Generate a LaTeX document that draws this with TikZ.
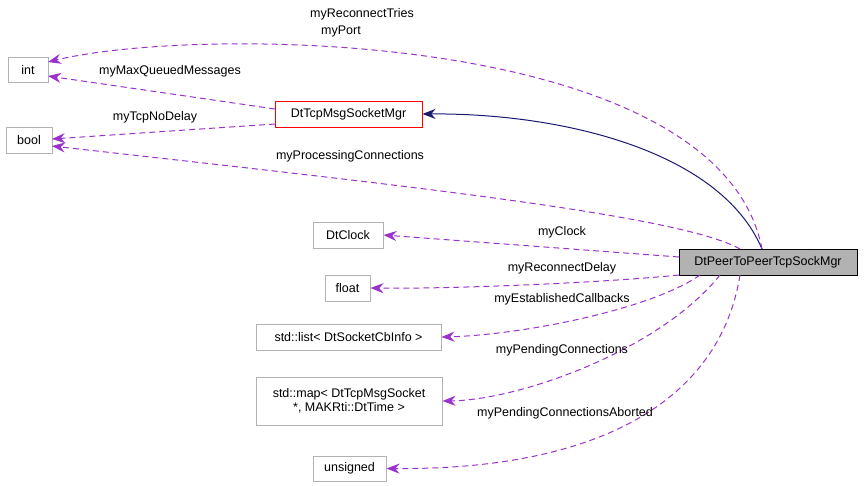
\documentclass[tikz,border=0pt]{standalone}
\usepackage{fontspec}
\setmainfont{Liberation Sans}
\usetikzlibrary{arrows.meta}
\definecolor{purp}{HTML}{9A32CD}
\definecolor{navy}{HTML}{191970}
\begin{document}
\begin{tikzpicture}[x=1pt,y=-1pt,font=\fontsize{12.5}{14.5}\selectfont,line width=1pt,
 box/.style={draw=black!30,fill=white,inner sep=0pt,align=center},
 rel/.style={purp,dash pattern=on 6pt off 4pt,-{Stealth[length=13pt,width=10pt]}},
 lab/.style={inner sep=1pt}]
\useasboundingbox (0,0) rectangle (864,485);
\node[box,minimum width=40pt,minimum height=25pt] (int) at (28,70) {int};
\node[box,minimum width=46pt,minimum height=26pt] (bool) at (29,140) {bool};
\node[box,draw=red,minimum width=147pt,minimum height=26pt] (tcp) at (348.5,114) {DtTcpMsgSocketMgr};
\node[box,minimum width=70pt,minimum height=26pt] (clock) at (348,235) {DtClock};
\node[box,minimum width=45pt,minimum height=26pt] (float) at (347.5,288) {float};
\node[box,minimum width=185pt,minimum height=26pt] (list) at (348.5,337) {std::list< DtSocketCbInfo >};
\node[box,minimum width=186pt,minimum height=48pt] (map) at (349,401) {std::map< DtTcpMsgSocket\\*, MAKRti::DtTime >};
\node[box,minimum width=73pt,minimum height=25pt] (uns) at (349.5,468.5) {unsigned};
\node[box,draw=black,fill=black!30,minimum width=178pt,minimum height=26pt] (peer) at (768,262) {DtPeerToPeerTcpSockMgr};

\coordinate (pn1) at (762,249);
\coordinate (pn2) at (740,249);
\coordinate (pw1) at (679,257);
\coordinate (pw2) at (679,275);
\coordinate (ps1) at (700,275);
\coordinate (ps2) at (720,275);
\coordinate (ps3) at (740,275);
\coordinate (tw1) at (275,109);
\coordinate (tw2) at (275,124);
\coordinate (ie1) at (48,62);
\coordinate (ie2) at (48,76);
\coordinate (be1) at (52,139);
\coordinate (be2) at (52,146);

\draw[navy,-{Stealth[length=13pt,width=10pt]}] (pn1) .. controls (720,150) and (560,113) .. (tcp.east);
\draw[rel] (pn1) .. controls (720,30) and (200,25) .. (ie1);
\draw[rel] (tw1) -- (ie2);
\draw[rel] (tw2) -- (be1);
\draw[rel] (pn2) .. controls (680,215) and (400,185) .. (be2);
\draw[rel] (pw1) -- (clock.east);
\draw[rel] (pw2) .. controls (600,283) and (450,289) .. (float.east);
\draw[rel] (ps1) .. controls (650,310) and (520,335) .. (list.east);
\draw[rel] (ps2) .. controls (660,350) and (520,400) .. (map.east);
\draw[rel] (ps3) .. controls (720,400) and (600,470) .. (uns.east);

\node[lab] at (362,14) {myReconnectTries};
\node[lab] at (341,31) {myPort};
\node[lab] at (170,71) {myMaxQueuedMessages};
\node[lab] at (155,117) {myTcpNoDelay};
\node[lab] at (350,156) {myProcessingConnections};
\node[lab] at (562,232) {myClock};
\node[lab] at (562,268) {myReconnectDelay};
\node[lab] at (562,299) {myEstablishedCallbacks};
\node[lab] at (562,350) {myPendingConnections};
\node[lab] at (565,413) {myPendingConnectionsAborted};
\end{tikzpicture}
\end{document}
